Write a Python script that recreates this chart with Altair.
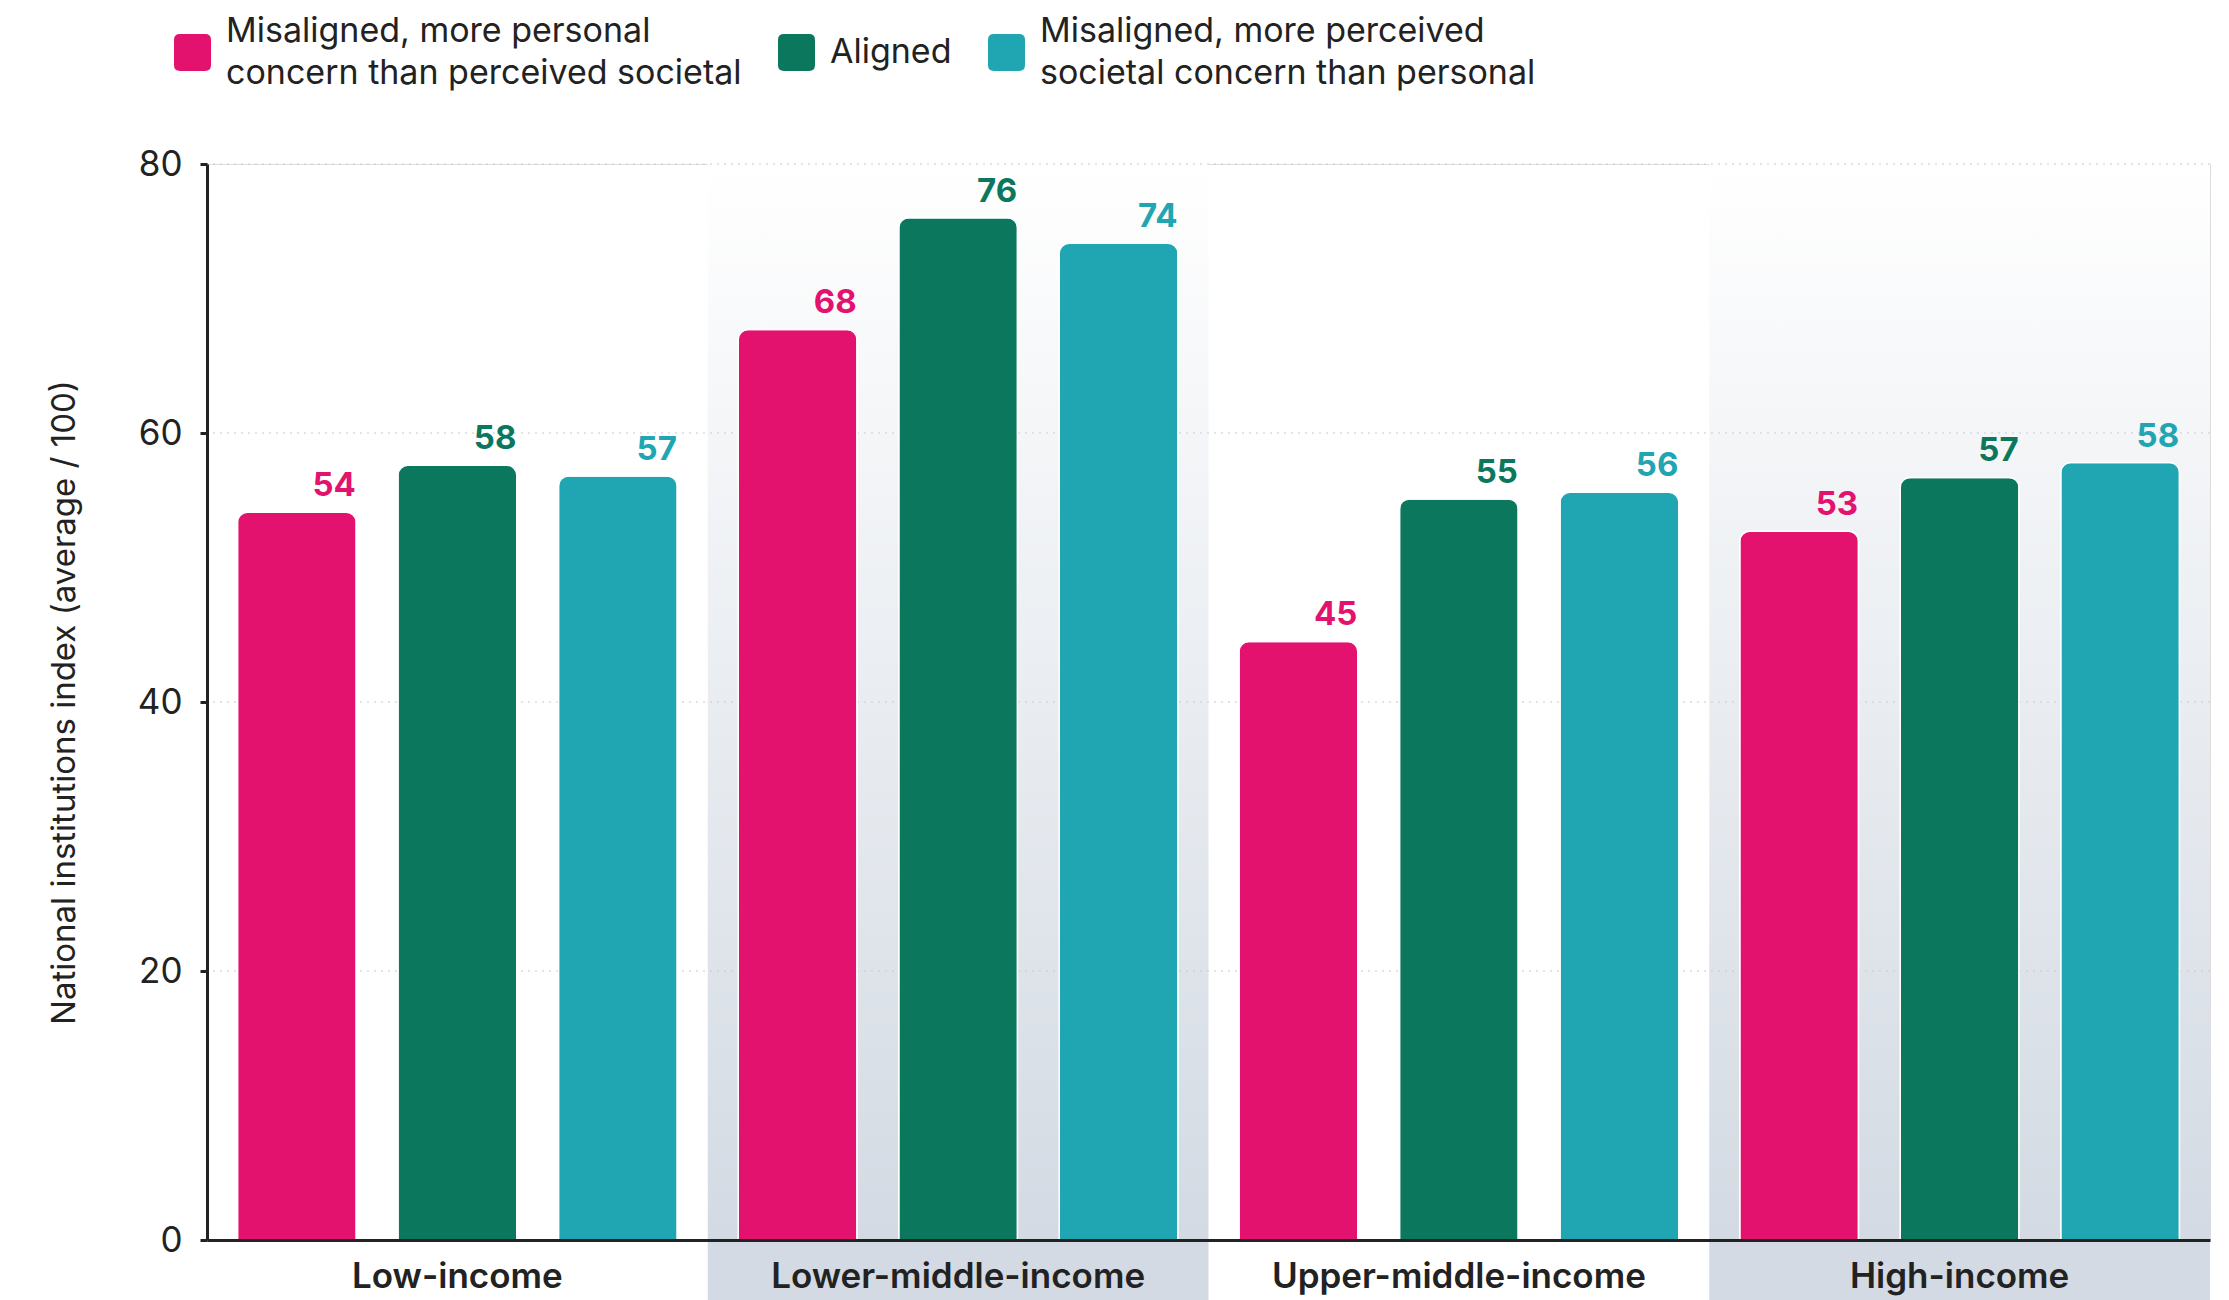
import altair as alt
import pandas as pd

categories = ["Low-income", "Lower-middle-income", "Upper-middle-income", "High-income"]
shaded = ["Lower-middle-income", "High-income"]
series = [
    "Misaligned, more personal|concern than perceived societal",
    "Aligned",
    "Misaligned, more perceived|societal concern than personal",
]
colors = ["#E3126E", "#0B785E", "#1FA6B2"]

personal_vals = [54.1, 67.7, 44.5, 52.7]
aligned_vals = [57.6, 76.0, 55.1, 56.7]
societal_vals = [56.8, 74.1, 55.6, 57.8]
personal_lbl = [54, 68, 45, 53]
aligned_lbl = [58, 76, 55, 57]
societal_lbl = [57, 74, 56, 58]

y_ticks = [0, 20, 40, 60, 80]
grid_vals = [20, 40, 60, 80]

rows = []
for s, vals, lbls in zip(series, [personal_vals, aligned_vals, societal_vals],
                         [personal_lbl, aligned_lbl, societal_lbl]):
    for c, v, l in zip(categories, vals, lbls):
        rows.append({"category": c, "series": s, "value": v, "label": str(l)})
df = pd.DataFrame(rows)
bg_df = pd.DataFrame({"category": shaded})
grid_df = pd.DataFrame({"y": grid_vals})

W, H = 2003, 1076
FONT = "Inter"

x_enc = alt.X("category:N", sort=categories,
              scale=alt.Scale(domain=categories, paddingInner=0, paddingOuter=0),
              axis=alt.Axis(title=None, ticks=False, domainColor="#222222", domainWidth=3,
                            labelFontSize=35, labelFontWeight=600, labelColor="#222222",
                            labelPadding=19, labelFont=FONT, zindex=1, labelAngle=0,
                            labelLimit=1000))

bg = alt.Chart(bg_df).mark_rect(
    fill=alt.Gradient(
        gradient="linear",
        stops=[alt.GradientStop(color="#ffffff", offset=0),
               alt.GradientStop(color="#d3dae3", offset=1)],
        x1=0, x2=0, y1=0, y2=1,
    )
).encode(x=x_enc, y=alt.datum(80), y2=alt.datum(0))

label_band = alt.Chart(bg_df).mark_rect(fill="#d3dae3").encode(
    x=alt.X("category:N", sort=categories), y=alt.value(H), y2=alt.value(H + 60)
)

grid = alt.Chart(grid_df).mark_rule(color="#c9c9c9", strokeDash=[2, 5], strokeWidth=1.2).encode(
    y=alt.Y("y:Q")
)

y_enc = alt.Y("value:Q", scale=alt.Scale(domain=[0, 80], nice=False),
              axis=alt.Axis(title="National institutions index (average / 100)", values=y_ticks,
                            grid=False, tickSize=7, tickColor="#222222", tickWidth=3,
                            domainColor="#222222", domainWidth=3,
                            labelFontSize=35, labelColor="#222222", labelPadding=18,
                            labelFont=FONT, titleFont=FONT, titleFontSize=33,
                            titleFontWeight="normal", titleColor="#222222", titlePadding=56,
                            zindex=1))

color_enc = alt.Color("series:N", sort=series,
                      scale=alt.Scale(domain=series, range=colors),
                      legend=alt.Legend(
                          title=None, orient="none", direction="horizontal",
                          legendX=-33, legendY=-130, gridAlign="none",
                          labelExpr="split(datum.label, '|')",
                          labelFont=FONT, labelFontSize=34, labelColor="#222222",
                          labelLimit=1000, labelOffset=15,
                          labelBaseline={"expr": "indexof(datum.label, '|') >= 0 ? 'line-bottom' : 'middle'"},
                          symbolType="M-0.68,-1H0.68Q1,-1 1,-0.68V0.68Q1,1 0.68,1H-0.68Q-1,1 -1,0.68V-0.68Q-1,-1 -0.68,-1Z",
                          symbolSize=1369, symbolStrokeWidth=0, symbolOpacity=1,
                          columnPadding=36, padding=0,
                      ))

xoff = alt.XOffset("series:N", sort=series,
                   scale=alt.Scale(domain=series, paddingInner=0.26, paddingOuter=0.19))

bars = alt.Chart(df).mark_bar(
    cornerRadiusTopLeft=10, cornerRadiusTopRight=10, stroke="white", strokeWidth=1.5
).encode(x=alt.X("category:N", sort=categories), xOffset=xoff, y=y_enc, color=color_enc)

texts = alt.Chart(df).mark_text(
    align="right", baseline="bottom", dx=59, dy=-9, fontSize=33, fontWeight="bold", font=FONT
).encode(x=alt.X("category:N", sort=categories), xOffset=xoff, y=alt.Y("value:Q"),
         text="label:N", color=alt.Color("series:N", sort=series, legend=None))

chart = alt.layer(bg, label_band, grid, bars, texts).properties(
    width=W, height=H,
    autosize=alt.AutoSizeParams(type="none"),
    padding={"left": 207, "top": 164, "right": 19, "bottom": 60},
).configure_view(stroke=None).configure(
    background="white",
    style={"guide-label": {"lineHeight": 42}},
)

chart.save("out.html", embed_options={"renderer": "svg", "actions": False})
